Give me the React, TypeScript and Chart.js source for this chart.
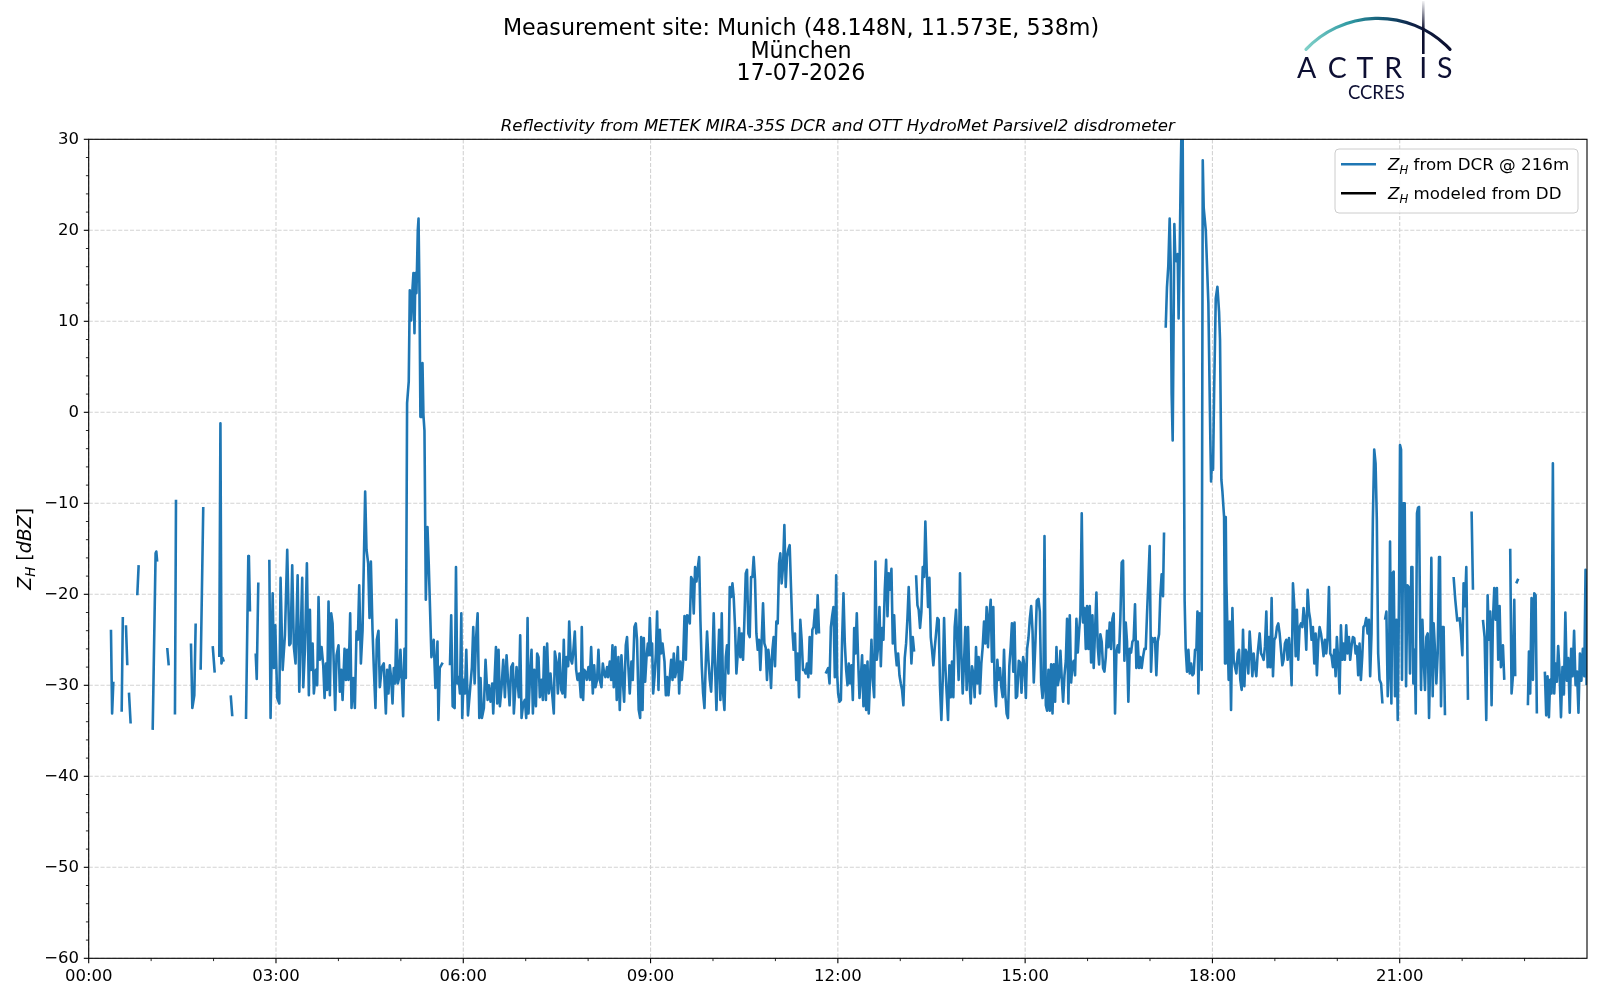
import React, { useEffect, useRef } from 'react';
import { Chart, registerables } from 'chart.js';

Chart.register(...registerables);

// ---- DATA: [minutes since 00:00 UTC, Z_H in dBZ] (null = no data) ----
const dcr0003: [number, number | null][] = [
  [21.4, -23.9], [22.5, -33.1], [23.7, -29.6], [27, null],
  [31.7, -32.9], [32.8, -22.5], [34.3, null],
  [35.8, -23.4], [37.1, -27.8], [37.9, null],
  [38.7, -30.8], [40.3, -34.2], [43, null],
  [46.7, -20.1], [48.0, -16.8], [55, null],
  [61.5, -34.9], [64.3, -15.5], [65.0, -15.3], [65.8, -16.4], [70, null],
  [75.5, -25.9], [76.9, -27.8], [80, null],
  [82.9, -33.2], [83.9, -9.6], [90, null],
  [98.3, -25.4], [99.6, -32.5], [101.5, -31.1], [102.8, -23.2], [105, null],
  [107.6, -28.3], [110.1, -10.4], [115, null],
  [119.2, -25.7], [121.1, -28.6], [123, null],
  [125.5, -26.9], [126.6, -1.2], [127.6, -27.6], [128.8, -27.0], [129.8, -27.4], [133, null],
  [136.5, -31.1], [138.0, -33.4], [145, null],
  [151.2, -33.7], [153.4, -15.8], [154.0, -16.0], [155.0, -21.9], [158, null],
  [160.5, -26.5], [161.5, -29.3], [163.0, -18.7], [168, null],
  [173.6, -16.2], [174.8, -33.6], [176.8, -19.9], [178.0, -28.1], [179.3, -23.4],
];

const dcr0306: [number, number | null][] = [
  [181.2, -31.4], [183.2, -32.0], [184.4, -18.2], [186.4, -28.3], [188.6, -24.5], [190.8, -15.1], [192.8, -25.6],
  [194.0, -25.4], [195.6, -16.8], [197.2, -25.8], [198.8, -27.6], [200.8, -17.9], [202.4, -30.7], [205.2, -18.2],
  [206.2, -30.2], [207.8, -26.1], [209.7, -16.6], [211.6, -31.1], [212.6, -21.7], [213.6, -28.3], [215.2, -25.4],
  [216.4, -30.9], [218.4, -28.3], [219.6, -30.0], [220.9, -20.3], [222.2, -27.2], [223.8, -25.8], [225.4, -27.8],
  [226.7, -31.4], [228.0, -27.6], [229.2, -30.5], [230.5, -20.8], [231.8, -31.1], [233.1, -22.1], [234.4, -23.2],
  [235.6, -28.0], [236.9, -32.7], [238.2, -26.7], [240.1, -25.6], [241.4, -30.7], [242.7, -28.3], [244.0, -31.6],
  [245.9, -26.0], [247.2, -29.4], [248.4, -26.1], [249.7, -29.4], [251.3, -22.1], [252.6, -32.5], [254.2, -29.2],
  [255.8, -32.5], [257.4, -24.1], [258.7, -25.0], [260.0, -19.0], [261.6, -27.6], [263.2, -24.0], [265.7, -8.7],
  [267.0, -15.1], [268.6, -16.6], [269.9, -22.6], [271.2, -16.4], [272.8, -24.0], [274.0, -28.0], [275.6, -32.5],
  [276.9, -25.0], [278.5, -24.0], [279.8, -30.2], [281.7, -28.0], [283.6, -27.6], [285.6, -33.1], [286.8, -28.3],
  [288.1, -30.9], [289.4, -27.8], [290.7, -29.2], [292.0, -32.0], [293.2, -28.1], [294.5, -29.8], [295.8, -22.8],
  [297.1, -29.8], [298.4, -29.1], [299.6, -26.1], [300.9, -29.2], [302.2, -33.4], [303.5, -26.0], [304.8, -29.2],
  [306.0, 1.0], [307.6, 3.4], [308.6, 13.4], [309.9, 10.1], [311.2, 13.6], [312.1, 15.3], [313.1, 8.7],
  [314.0, 15.3], [315.0, 13.1], [316.3, 20.0], [317.0, 21.3], [317.9, 13.1], [318.8, -0.5], [319.8, -0.5],
  [320.8, 5.4], [321.7, -0.3], [322.7, -2.0], [324.0, -20.6], [325.6, -12.6], [326.8, -16.6], [329.4, -26.9],
  [331.6, -25.0], [333.2, -30.3], [335.2, -25.2], [336.1, -33.8], [337.4, -28.1], [340.2, -27.5], [343, null],
  [347.2, -27.8], [348.4, -22.3], [349.8, -32.3], [351.7, -32.5], [353.0, -17.0], [354.2, -29.8], [355.5, -29.1],
  [356.8, -30.9], [358.1, -22.1], [359.0, -33.6],
];

const dcr0609: [number, number | null][] = [
  [360.3, -29.4], [361.6, -30.9], [362.9, -26.1], [364.5, -33.3], [368.3, -28.0], [369.6, -23.6], [370.9, -29.8],
  [372.2, -25.0], [373.8, -22.1], [375.4, -33.6], [376.6, -29.2], [377.9, -33.6], [379.8, -32.5], [381.4, -27.2],
  [383.4, -31.6], [384.6, -30.0], [386.2, -31.8], [387.8, -29.8], [388.8, -33.1], [390.1, -29.4], [391.4, -25.8],
  [392.6, -32.0], [393.9, -26.1], [395.2, -32.3], [396.8, -30.2], [398.4, -27.2], [400.0, -31.3], [401.6, -26.7],
  [403.2, -29.8], [404.5, -32.2], [406.1, -28.0], [407.7, -27.6], [408.6, -33.1], [411.2, -28.0], [413.4, -31.3],
  [414.7, -24.5], [416.0, -33.6], [417.6, -32.0], [419.2, -31.6], [420.5, -33.6], [421.8, -22.6], [422.7, -33.1],
  [424.0, -29.4], [425.6, -26.1], [426.9, -33.1], [428.2, -28.3], [429.8, -32.3], [431.0, -26.5], [432.3, -26.9],
  [433.6, -31.3], [435.2, -29.4], [436.5, -31.6], [437.8, -25.8], [439.4, -31.6], [440.6, -25.4], [442.2, -30.9],
  [443.8, -28.7], [445.4, -30.9], [447.0, -33.1], [448.0, -26.3], [449.6, -27.4], [450.9, -30.9], [452.5, -26.5],
  [454.1, -30.5], [455.4, -30.9], [456.6, -25.0], [457.9, -31.3], [459.2, -26.9], [460.8, -27.9], [461.8, -23.0],
  [463.4, -27.2], [464.6, -27.6], [465.6, -26.5], [467.2, -24.1], [468.5, -28.3], [469.8, -29.4], [471.4, -28.7],
  [473.0, -31.3], [473.9, -23.6], [475.2, -31.6], [476.2, -28.3], [477.4, -28.5], [478.7, -29.4], [480.3, -28.0],
  [481.6, -29.4], [482.9, -25.8], [484.5, -30.9], [485.8, -27.8], [487.0, -30.2], [488.6, -29.4], [489.9, -26.1],
  [491.2, -29.4], [492.8, -30.2], [494.1, -27.6], [495.4, -28.7], [496.6, -29.1], [498.2, -28.0], [499.2, -29.1],
  [500.8, -27.4], [502.1, -29.4], [503.4, -25.6], [504.6, -30.2], [506.2, -25.8], [507.5, -31.6], [509.1, -26.9],
  [510.4, -32.7], [512.0, -26.7], [513.3, -29.4], [514.6, -31.8], [516.2, -25.6], [517.4, -24.7], [518.7, -28.0],
  [520.0, -30.9], [521.6, -27.4], [522.9, -29.4], [524.5, -23.6], [525.8, -23.2], [527.0, -25.0], [528.6, -32.7],
  [530.0, -33.6], [531.0, -24.7], [532.3, -32.7], [533.5, -24.8], [534.8, -29.6], [536.1, -26.9], [537.4, -25.4],
  [538.3, -26.7], [539.3, -22.6],
];

const dcr0912: [number, number | null][] = [
  [540.6, -26.7], [541.5, -25.4], [542.5, -30.9], [543.8, -29.1], [545.1, -26.5], [546.3, -21.9], [547.6, -30.5],
  [548.9, -23.9], [550.2, -26.5], [551.5, -25.4], [553.4, -27.4], [554.7, -31.1], [556.0, -29.1], [557.2, -31.1],
  [558.5, -29.1], [559.8, -27.2], [561.1, -29.4], [562.3, -26.5], [563.6, -29.1], [564.9, -28.3], [566.2, -25.8],
  [567.5, -30.9], [568.7, -27.4], [570.0, -29.4], [571.3, -27.4], [572.6, -22.4], [573.9, -27.2], [575.1, -22.3],
  [576.4, -22.4], [577.7, -23.2], [579.0, -18.1], [580.3, -18.4], [581.5, -22.1], [582.8, -17.0], [584.1, -18.6],
  [585.4, -17.1], [586.7, -15.9], [587.9, -22.8], [589.2, -27.9], [590.5, -30.9], [591.8, -32.5], [593.1, -27.4],
  [594.3, -24.1], [595.6, -27.2], [596.9, -29.4], [598.2, -30.7], [599.5, -27.2], [600.7, -22.1], [602.0, -27.9],
  [603.3, -32.7], [604.6, -27.9], [605.9, -23.9], [607.1, -31.6], [608.4, -22.1], [609.7, -30.9], [611.0, -32.7],
  [612.3, -26.9], [613.5, -25.6], [614.8, -28.7], [616.1, -19.2], [617.4, -20.3], [618.7, -18.8], [619.9, -20.3],
  [621.2, -23.6], [622.5, -28.7], [623.8, -26.5], [625.1, -23.7], [626.3, -26.9], [627.6, -24.3], [628.9, -27.2],
  [630.2, -22.8], [631.5, -17.7], [632.7, -17.3], [634.0, -24.3], [635.3, -24.7], [636.6, -18.1], [637.9, -18.1],
  [639.1, -15.9], [640.4, -18.4], [641.7, -24.3], [643.0, -26.1], [644.3, -25.0], [645.5, -28.3], [646.8, -25.0],
  [648.1, -21.0], [649.4, -25.4], [650.7, -25.9], [651.9, -29.4], [653.2, -26.1], [654.5, -27.4], [655.8, -30.3],
  [657.1, -26.1], [658.3, -24.7], [659.6, -27.9], [660.9, -23.0], [662.2, -23.2], [663.5, -16.6], [664.7, -15.5],
  [666.0, -18.8], [667.3, -17.0], [668.6, -12.4], [669.9, -19.2], [671.1, -15.9], [672.4, -15.1], [673.7, -14.6],
  [675.0, -19.3], [676.3, -23.9], [677.5, -26.1], [678.8, -24.3], [680.1, -29.4], [681.4, -26.5], [682.7, -31.3],
  [683.9, -22.8], [685.2, -25.0], [686.5, -28.3], [687.8, -28.3], [689.1, -28.7], [690.3, -27.6], [691.6, -29.1],
  [692.9, -24.7], [694.2, -28.7], [695.5, -23.9], [696.7, -23.6], [698.0, -21.7], [699.3, -24.3], [700.6, -20.1],
  [701.9, -24.3], [705, null],
  [708.3, -28.7], [710.7, -28.1], [712.0, -29.8], [713.3, -23.6], [714.5, -22.4], [715.8, -21.4], [717.1, -29.1],
  [718.4, -17.9], [719.3, -28.7],
];

const dcr1215: [number, number | null][] = [
  [720.3, -30.9], [721.6, -31.8], [722.9, -31.6], [724.1, -25.0], [725.4, -19.9], [726.7, -25.4], [728.0, -28.3],
  [729.3, -30.0], [730.5, -27.6], [731.8, -29.8], [733.1, -27.8], [734.4, -31.6], [735.7, -23.7], [736.9, -26.5],
  [738.2, -22.1], [739.5, -27.2], [740.8, -31.4], [742.1, -29.1], [743.3, -26.7], [744.6, -32.3], [745.9, -27.8],
  [747.2, -32.7], [748.5, -27.4], [749.7, -33.1], [751.0, -29.1], [752.3, -25.0], [753.6, -29.4], [754.9, -31.3],
  [756.1, -16.4], [757.4, -27.2], [758.7, -25.8], [760.0, -21.4], [761.3, -27.9], [762.5, -23.7], [763.8, -25.0],
  [765.1, -19.5], [766.4, -16.2], [767.7, -22.4], [768.9, -17.7], [770.2, -19.5], [771.5, -17.2], [772.8, -25.4],
  [774.1, -22.3], [775.3, -26.1], [776.6, -27.8], [777.9, -26.5], [779.2, -28.9], [780.5, -29.8], [781.7, -30.5],
  [783.0, -32.2], [784.3, -27.0], [785.6, -25.4], [786.9, -22.6], [788.1, -19.2], [789.4, -23.2], [790.7, -27.6],
  [792.0, -24.7], [793.3, -26.3], [794.2, null],
  [795.2, -17.9], [796.5, -21.2], [797.7, -21.7], [799.0, -23.7], [800.3, -21.9], [801.6, -17.0], [802.9, -18.1],
  [804.1, -12.0], [805.4, -17.3], [806.7, -21.4], [808.0, -18.2], [809.3, -24.7], [810.5, -26.1], [811.8, -27.8],
  [813.1, -25.9], [814.4, -24.3], [815.7, -22.6], [816.9, -22.8], [818.2, -30.2], [819.5, -33.8], [820.8, -29.4],
  [822.1, -22.6], [823.3, -27.9], [824.6, -30.9], [825.9, -33.8], [827.2, -27.8], [828.5, -31.3], [829.7, -27.4],
  [831.0, -31.3], [832.3, -23.6], [833.6, -21.7], [834.9, -25.8], [836.1, -29.4], [837.4, -17.7], [838.7, -26.5],
  [840.0, -30.9], [841.3, -27.4], [842.5, -23.6], [843.8, -30.5], [845.1, -23.6], [846.4, -29.4], [847.7, -32.0],
  [848.9, -27.9], [850.2, -28.7], [851.5, -31.3], [852.8, -25.8], [854.1, -29.8], [855.3, -26.9], [856.6, -30.9],
  [857.9, -27.6], [859.2, -25.8], [860.5, -23.0], [861.7, -25.4], [863.0, -21.4], [864.3, -25.8], [865.6, -22.4],
  [866.9, -20.6], [868.1, -27.4], [869.4, -21.4], [870.7, -30.3], [872.0, -32.3], [873.3, -27.2], [874.5, -29.4],
  [875.8, -28.1], [877.1, -30.2], [878.4, -31.3], [879.7, -26.1], [880.9, -30.9], [882.2, -33.1], [883.5, -33.6],
  [884.8, -27.9], [886.1, -25.8], [887.3, -23.2], [888.6, -28.5], [889.8, -23.1], [891.1, -31.4], [892.3, -31.2],
  [893.9, -27.3], [895.2, -27.5], [896.5, -30.8], [898.1, -26.9], [899.4, -27.9],
];

const dcr1518: [number, number | null][] = [
  [900.7, -31.4], [901.9, -26.0], [903.2, -24.8], [904.5, -22.7], [905.8, -21.3], [907.1, -24.0], [908.3, -29.7],
  [909.9, -25.2], [911.2, -20.7], [912.8, -20.5], [914.1, -21.9], [915.4, -29.7], [916.7, -31.4], [917.6, -30.2],
  [918.6, -13.6], [919.9, -32.2], [921.1, -32.8], [922.4, -28.3], [923.7, -32.8], [925.0, -27.7], [926.3, -33.1],
  [927.5, -27.7], [928.8, -31.8], [930.1, -25.8], [931.4, -30.0], [932.7, -29.1], [933.9, -26.2], [935.2, -29.3],
  [936.5, -31.8], [937.8, -28.9], [939.1, -27.3], [940.3, -22.7], [941.6, -32.0], [942.9, -22.3], [944.2, -29.7],
  [945.5, -27.7], [946.7, -27.3], [948.0, -28.9], [949.3, -22.7], [950.6, -26.4], [951.9, -24.0], [953.1, -22.3],
  [954.4, -11.1], [955.7, -23.1], [957.0, -21.5], [958.3, -26.0], [959.5, -21.3], [960.8, -26.0], [962.1, -21.3],
  [963.4, -27.5], [964.7, -22.3], [965.9, -28.1], [967.2, -24.0], [968.5, -19.8], [969.8, -25.8], [971.1, -27.7],
  [972.3, -24.4], [973.6, -25.2], [974.9, -28.1], [976.2, -28.5], [977.5, -26.9], [978.7, -24.0], [980.0, -25.8],
  [981.3, -23.1], [982.6, -26.0], [983.9, -22.7], [985.1, -22.1], [986.4, -33.1], [987.7, -26.4], [989.0, -25.6],
  [990.3, -26.4], [991.5, -22.7], [992.8, -16.5], [994.1, -16.3], [995.4, -27.3], [996.7, -23.1], [997.9, -25.2],
  [999.2, -31.8], [1000.5, -26.0], [1001.8, -26.4], [1003.1, -25.2], [1004.3, -25.0], [1005.6, -21.1], [1006.9, -28.1],
  [1008.2, -25.2], [1009.5, -28.1], [1010.7, -26.9], [1012.0, -28.1], [1013.3, -26.9], [1014.6, -26.0], [1015.9, -26.0],
  [1017.1, -22.3], [1018.4, -18.6], [1019.7, -14.7], [1021.0, -28.5], [1022.3, -24.8], [1023.5, -25.2], [1024.8, -24.8],
  [1026.1, -28.9], [1027.4, -25.2], [1028.7, -24.4], [1029.9, -20.2], [1031.2, -17.8], [1032.5, -20.2], [1033.5, -13.2],
  [1034.3, null],
  [1035.1, 9.3], [1036.3, 13.7], [1037.6, 16.1], [1038.9, 21.3], [1039.9, 16.1], [1040.8, 2.1], [1041.8, -3.1],
  [1042.7, 9.5], [1043.4, 20.7], [1044.3, 17.0], [1045.3, 16.6], [1046.6, 17.4], [1047.5, 10.3], [1048.5, 17.0],
  [1049.5, 26.0], [1050.4, 32.0], [1051.4, 31.0], [1052.3, 6.2], [1053.3, -20.7], [1054.3, -26.0], [1055.6, -28.5],
  [1056.9, -26.1], [1058.2, -28.7], [1059.5, -27.6], [1060.8, -28.9], [1062.0, -28.7], [1063.3, -26.1], [1064.6, -26.1],
  [1065.6, -21.9], [1066.5, -30.9], [1067.8, -22.1], [1068.8, -22.3], [1069.7, -28.3], [1070.7, 27.7], [1071.6, 22.5],
  [1073.6, 20.0], [1076.1, 12.0], [1078.0, -3.0], [1078.7, -7.6], [1079.6, -5.0],
];

const dcr1821: [number, number | null][] = [
  [1080.6, -6.3], [1081.6, 2.0], [1083.2, 12.5], [1084.8, 13.8], [1086.4, 11.0], [1087.3, 8.0], [1088.6, -7.4],
  [1089.6, -8.7], [1091.2, -11.5], [1092.1, -27.6], [1092.8, -11.5], [1093.4, -18.8], [1095.6, -29.4], [1096.6, -23.0],
  [1097.9, -32.7], [1099.2, -21.5], [1100.4, -27.2], [1101.7, -28.0], [1103.0, -28.7], [1104.3, -26.5], [1105.6, -26.1],
  [1106.8, -29.4], [1108.1, -30.5], [1109.4, -23.9], [1110.7, -30.1], [1112.0, -26.1], [1113.2, -26.5], [1114.5, -28.7],
  [1115.8, -24.1], [1117.1, -26.5], [1118.4, -29.0], [1119.6, -26.5], [1120.9, -28.0], [1122.2, -29.0], [1123.5, -26.5],
  [1125.4, -24.3], [1126.7, -26.5], [1128.0, -26.8], [1129.2, -27.2], [1130.5, -25.7], [1131.8, -21.9], [1133.1, -28.0],
  [1134.4, -24.7], [1135.6, -28.0], [1136.9, -20.4], [1138.2, -29.0], [1139.5, -25.0], [1140.8, -24.7], [1142.0, -23.6],
  [1143.3, -23.2], [1144.6, -24.3], [1145.9, -26.1], [1147.2, -27.8], [1148.4, -27.2], [1149.7, -25.4], [1151.0, -25.0],
  [1152.3, -27.2], [1153.6, -24.8], [1154.8, -26.5], [1156.1, -30.0], [1157.4, -18.8], [1158.7, -21.3], [1160.0, -26.8],
  [1161.2, -21.7], [1162.5, -27.2], [1163.8, -23.6], [1165.1, -23.2], [1166.4, -23.6], [1167.6, -21.5], [1168.9, -22.8],
  [1170.2, -26.1], [1171.5, -19.5], [1172.8, -21.9], [1174.0, -22.8], [1175.3, -25.0], [1176.6, -23.6], [1177.9, -27.6],
  [1179.2, -24.3], [1180.4, -28.9], [1181.7, -25.2], [1183.0, -23.6], [1184.3, -24.3], [1185.6, -25.4], [1186.8, -26.8],
  [1188.1, -25.0], [1189.4, -26.5], [1190.7, -24.7], [1192.0, -19.2], [1193.2, -26.5], [1194.5, -26.8], [1195.8, -28.0],
  [1197.1, -26.1], [1198.4, -29.0], [1199.6, -24.7], [1200.9, -27.2], [1202.2, -30.9], [1203.5, -23.4], [1204.8, -27.2],
  [1206.0, -25.4], [1207.3, -27.2], [1208.6, -23.4], [1209.9, -26.5], [1211.2, -24.7], [1212.4, -27.2], [1213.7, -25.7],
  [1215.0, -24.7], [1216.3, -24.8], [1217.6, -26.5], [1218.8, -25.7], [1220.1, -28.9], [1221.4, -25.4], [1222.7, -29.4],
  [1224.0, -26.8], [1225.2, -23.6], [1226.5, -23.4], [1227.8, -22.6], [1229.1, -24.3], [1230.4, -22.8], [1231.6, -29.0],
  [1232.9, -24.3], [1234.2, -11.8], [1235.5, -4.1], [1236.8, -5.6], [1238.0, -11.8], [1239.3, -26.5], [1240.6, -29.4],
  [1242.1, -29.8], [1243.4, -32.0], [1244.6, null],
  [1245.9, -22.8], [1247.2, -21.9], [1248.5, -31.2], [1249.8, -28.0], [1250.7, -14.2], [1252.0, -32.0], [1253.0, -17.7],
  [1254.2, -17.5], [1255.5, -31.2], [1256.8, -22.8], [1258.1, -33.8], [1259.4, -19.2],
];

const dcr2124: [number, number | null][] = [
  [1260.3, -3.6], [1261.3, -4.1], [1262.2, -29.4], [1263.5, -10.0], [1264.8, -10.0], [1266.1, -30.1], [1267.4, -19.0],
  [1268.6, -19.2], [1269.9, -28.7], [1271.2, -17.0], [1272.2, -17.0], [1273.1, -29.8], [1274.4, -26.1], [1275.4, -33.1],
  [1276.6, -11.1], [1277.6, -10.5], [1278.6, -10.4], [1279.5, -22.1], [1280.5, -30.5], [1281.8, -22.8], [1283.0, -26.8],
  [1284.3, -30.5], [1285.6, -24.7], [1286.9, -24.3], [1288.2, -33.6], [1289.4, -26.5], [1290.4, -16.0], [1291.7, -31.2],
  [1292.6, -23.2], [1293.9, -26.1], [1295.2, -29.8], [1296.5, -26.5], [1297.8, -15.9], [1298.7, -16.0], [1299.7, -32.3],
  [1301.0, -23.6], [1302.2, -23.6], [1303.5, -33.3], [1307, null],
  [1311.8, -18.1], [1313.4, -20.6], [1315.4, -23.0], [1316.5, null],
  [1317.6, -22.5], [1318.9, -24.3], [1320.2, -26.7], [1321.4, -18.8], [1322.7, -21.3], [1324.0, -17.0], [1325.6, -31.6],
  [1327, null],
  [1329.1, -10.9], [1330.4, -19.5], [1335, null],
  [1340.0, -22.8], [1341.6, -24.7], [1343.2, -33.8], [1344.5, -20.1], [1345.8, -25.0], [1347.0, -21.9], [1348.3, -32.2],
  [1349.6, -22.8], [1350.9, -19.3], [1352.2, -22.8], [1353.4, -19.3], [1354.7, -27.2], [1356.0, -21.3], [1357.3, -28.0],
  [1359.2, -25.6], [1360.5, -29.4], [1363, null],
  [1366.2, -15.0], [1367.5, -30.9], [1368.8, -29.0], [1370.1, -20.6], [1371.0, -29.0], [1371.5, null],
  [1372.0, -18.8], [1373.9, -18.3], [1378, null],
  [1383.2, -32.2], [1384.2, -26.3], [1385.4, -30.9], [1386.7, -20.4], [1388.0, -29.4], [1389.3, -19.9], [1390.6, -20.1],
  [1391.8, -33.1], [1395, null],
  [1399.5, -28.5], [1400.8, -33.3], [1402.1, -29.0], [1403.4, -33.5], [1404.6, -29.4], [1405.9, -30.9], [1407.2, -5.6],
  [1408.5, -30.9], [1409.8, -27.6], [1411.0, -29.6], [1412.3, -25.7], [1413.6, -28.5], [1415.0, -33.5], [1416.4, -28.0],
  [1417.8, -31.0], [1419.2, -22.0], [1420.6, -29.5], [1422.0, -27.0], [1423.4, -33.0], [1424.8, -26.0], [1426.2, -29.0],
  [1427.6, -24.0], [1429.0, -30.0], [1430.4, -28.5], [1431.8, -33.0], [1433.2, -26.5], [1434.6, -29.5], [1436.0, -26.0],
  [1437.4, -29.0], [1438.6, -17.3], [1439.6, -30.0],
];

const modeledDD: [number, number | null][] = [];

const xTickMinutes = [0, 180, 360, 540, 720, 900, 1080, 1260];
const xTickLabels = ['00:00', '03:00', '06:00', '09:00', '12:00', '15:00', '18:00', '21:00'];
const xMinorMinutes = [60, 120, 240, 300, 420, 480, 600, 660, 780, 840, 960, 1020, 1140, 1200, 1320, 1380];
const yTickValues = [-60, -50, -40, -30, -20, -10, 0, 10, 20, 30];

const titleLines = ['Measurement site: Munich (48.148N, 11.573E, 538m)', 'München', '17-07-2026'];
const subTitle = 'Reflectivity from METEK MIRA-35S DCR and OTT HydroMet Parsivel2 disdrometer';
const legendTexts = [' from DCR @ 216m', ' modeled from DD'];

const FONT = '"DejaVu Sans"';
const BLUE = '#1f77b4';

type Part = { t: string; it?: boolean; sub?: boolean };

function drawRich(ctx: CanvasRenderingContext2D, parts: Part[], x: number, y: number, size: number, align: 'left' | 'center') {
  const fontFor = (p: Part) => `${p.it ? 'italic ' : ''}${p.sub ? size * 0.7 : size}px ${FONT}`;
  let total = 0;
  const widths = parts.map((p) => {
    ctx.font = fontFor(p);
    const w = ctx.measureText(p.t).width;
    total += w;
    return w;
  });
  let cx = align === 'center' ? x - total / 2 : x;
  ctx.textAlign = 'left';
  ctx.textBaseline = 'alphabetic';
  parts.forEach((p, i) => {
    ctx.font = fontFor(p);
    ctx.fillText(p.t, cx, y + (p.sub ? size * 0.22 : 0));
    cx += widths[i];
  });
}

const decorPlugin = {
  id: 'decor',
  beforeDatasetsDraw(chart: any) {
    const { ctx, chartArea: a, scales } = chart;
    const x = scales.x;
    const y = scales.y;
    ctx.save();
    ctx.strokeStyle = '#d3d3d3';
    ctx.lineWidth = 1.1;
    ctx.setLineDash([4.1, 1.8]);
    for (const v of xTickMinutes) {
      const px = x.getPixelForValue(v);
      ctx.beginPath();
      ctx.moveTo(px, a.top);
      ctx.lineTo(px, a.bottom);
      ctx.stroke();
    }
    for (const v of yTickValues) {
      const py = y.getPixelForValue(v);
      ctx.beginPath();
      ctx.moveTo(a.left, py);
      ctx.lineTo(a.right, py);
      ctx.stroke();
    }
    ctx.restore();
  },
  afterDatasetsDraw(chart: any) {
    const { ctx, chartArea: a, scales } = chart;
    const x = scales.x;
    const y = scales.y;
    ctx.save();
    // frame
    ctx.strokeStyle = '#000';
    ctx.lineWidth = 1.1;
    ctx.strokeRect(a.left, a.top, a.right - a.left, a.bottom - a.top);
    // ticks
    const tick = (x0: number, y0: number, x1: number, y1: number, w: number) => {
      ctx.lineWidth = w;
      ctx.beginPath();
      ctx.moveTo(x0, y0);
      ctx.lineTo(x1, y1);
      ctx.stroke();
    };
    for (const v of xTickMinutes) {
      const px = x.getPixelForValue(v);
      tick(px, a.bottom, px, a.bottom + 4.9, 1.1);
    }
    for (const v of xMinorMinutes) {
      const px = x.getPixelForValue(v);
      tick(px, a.bottom, px, a.bottom + 2.8, 0.85);
    }
    for (let v = -60; v <= 30; v += 2) {
      const py = y.getPixelForValue(v);
      if (v % 10 === 0) tick(a.left, py, a.left - 4.9, py, 1.1);
      else tick(a.left, py, a.left - 2.8, py, 0.85);
    }

    // legend
    const lx = 1335, ly = 149, lw = 243, lh = 64, r = 4;
    ctx.beginPath();
    ctx.moveTo(lx + r, ly);
    ctx.lineTo(lx + lw - r, ly);
    ctx.quadraticCurveTo(lx + lw, ly, lx + lw, ly + r);
    ctx.lineTo(lx + lw, ly + lh - r);
    ctx.quadraticCurveTo(lx + lw, ly + lh, lx + lw - r, ly + lh);
    ctx.lineTo(lx + r, ly + lh);
    ctx.quadraticCurveTo(lx, ly + lh, lx, ly + lh - r);
    ctx.lineTo(lx, ly + r);
    ctx.quadraticCurveTo(lx, ly, lx + r, ly);
    ctx.closePath();
    ctx.fillStyle = 'rgba(255,255,255,0.8)';
    ctx.fill();
    ctx.strokeStyle = '#cccccc';
    ctx.lineWidth = 1;
    ctx.stroke();
    const rows = [
      { c: BLUE, yc: 164.3, t: legendTexts[0] },
      { c: '#000000', yc: 193.3, t: legendTexts[1] },
    ];
    for (const row of rows) {
      ctx.strokeStyle = row.c;
      ctx.lineWidth = 2.6;
      ctx.beginPath();
      ctx.moveTo(1341, row.yc);
      ctx.lineTo(1376, row.yc);
      ctx.stroke();
      ctx.fillStyle = '#000';
      drawRich(ctx, [{ t: 'Z', it: true }, { t: 'H', it: true, sub: true }, { t: row.t }], 1388, row.yc + 6, 16.7, 'left');
    }

    ctx.restore();
  },
  afterDraw(chart: any) {
    const { ctx, chartArea: a } = chart;
    ctx.save();
    ctx.fillStyle = '#000';
    // titles
    ctx.textAlign = 'center';
    ctx.textBaseline = 'middle';
    ctx.font = `22.2px ${FONT}`;
    ctx.fillText(titleLines[0], 801, 29.5);
    ctx.fillText(titleLines[1], 801, 52);
    ctx.fillText(titleLines[2], 801, 74.5);
    ctx.font = `italic 16.6px ${FONT}`;
    ctx.fillText(subTitle, (a.left + a.right) / 2, 126.5);

    // y axis label
    ctx.save();
    ctx.translate(23.5, (a.top + a.bottom) / 2);
    ctx.rotate(-Math.PI / 2);
    drawRich(ctx, [{ t: 'Z', it: true }, { t: 'H', it: true, sub: true }, { t: ' [' }, { t: 'dBZ', it: true }, { t: ']' }], 0, 7, 19, 'center');
    ctx.restore();

    // ACTRIS logo
    const cx = 1378, cy = 117.4, R = 99.1;
    const g = ctx.createLinearGradient(1306, 0, 1450, 0);
    g.addColorStop(0, '#7fd0c8');
    g.addColorStop(0.3, '#2f9aa3');
    g.addColorStop(0.55, '#135472');
    g.addColorStop(0.75, '#0e1f45');
    g.addColorStop(1, '#0c0f2e');
    ctx.strokeStyle = g;
    ctx.lineWidth = 3.2;
    ctx.lineCap = 'round';
    ctx.beginPath();
    ctx.arc(cx, cy, R, (-136.6 * Math.PI) / 180, (-43.4 * Math.PI) / 180, false);
    ctx.stroke();
    const gv = ctx.createLinearGradient(0, 1, 0, 30);
    gv.addColorStop(0, 'rgba(12,15,46,0.05)');
    gv.addColorStop(1, 'rgba(12,15,46,1)');
    ctx.strokeStyle = gv;
    ctx.lineWidth = 2.6;
    ctx.lineCap = 'butt';
    ctx.beginPath();
    ctx.moveTo(1423.3, 1);
    ctx.lineTo(1423.3, 54);
    ctx.stroke();
    ctx.fillStyle = '#0d0f33';
    ctx.textAlign = 'center';
    ctx.textBaseline = 'alphabetic';
    ctx.font = `400 28.5px Lato`;
    const letters = ['A', 'C', 'T', 'R', 'I', 'S'];
    const lxs = [1306.7, 1337.3, 1365, 1393.3, 1423.3, 1444.7];
    letters.forEach((ch, i) => ctx.fillText(ch, lxs[i], 78.3));
    ctx.font = `400 18.5px Lato`;
    ctx.fillText('CCRES', 1376.3, 99.3);
    ctx.restore();
  },
};

export default function App() {
  const canvasRef = useRef<HTMLCanvasElement | null>(null);

  useEffect(() => {
    const canvas = canvasRef.current;
    if (!canvas) return;
    const toPoints = (arr: [number, number | null][]) => arr.map(([t, v]) => ({ x: t, y: v }));
    const dcrAll = [...dcr0003, ...dcr0306, ...dcr0609, ...dcr0912, ...dcr1215, ...dcr1518, ...dcr1821, ...dcr2124];
    const tickFont = { family: 'DejaVu Sans', size: 16.5 };
    const chart = new Chart(canvas, {
      type: 'line',
      data: {
        datasets: [
          {
            label: 'Z_H from DCR @ 216m',
            data: toPoints(dcrAll) as any,
            borderColor: BLUE,
            borderWidth: 2.6,
            pointRadius: 0,
            tension: 0,
            spanGaps: false,
            fill: false,
            borderJoinStyle: 'round',
            borderCapStyle: 'butt',
          },
          {
            label: 'Z_H modeled from DD',
            data: toPoints(modeledDD) as any,
            borderColor: '#000000',
            borderWidth: 2.6,
            pointRadius: 0,
            fill: false,
          },
        ],
      },
      options: {
        animation: false,
        responsive: false,
        devicePixelRatio: 1,
        events: [],
        layout: { padding: { top: 139.3, right: 13, left: 0, bottom: 0 } },
        plugins: {
          legend: { display: false },
          title: { display: false },
          tooltip: { enabled: false },
        },
        scales: {
          x: {
            type: 'linear',
            min: 0,
            max: 1440,
            afterBuildTicks: (s: any) => {
              s.ticks = xTickMinutes.map((v) => ({ value: v }));
            },
            afterFit: (s: any) => {
              s.height = 41.7;
            },
            grid: { display: false, drawTicks: false },
            border: { display: false },
            ticks: {
              autoSkip: false,
              maxRotation: 0,
              minRotation: 0,
              padding: 9,
              color: '#000',
              font: tickFont,
              callback: (v: any) => {
                const i = xTickMinutes.indexOf(Number(v));
                return i >= 0 ? xTickLabels[i] : '';
              },
            },
          },
          y: {
            type: 'linear',
            min: -60,
            max: 30,
            afterBuildTicks: (s: any) => {
              s.ticks = yTickValues.map((v) => ({ value: v }));
            },
            afterFit: (s: any) => {
              s.width = 88.7;
            },
            grid: { display: false, drawTicks: false },
            border: { display: false },
            ticks: {
              padding: 9.7,
              color: '#000',
              font: tickFont,
              callback: (v: any) => {
                const n = Number(v);
                return n < 0 ? '\u2212' + Math.abs(n) : String(n);
              },
            },
          },
        },
      } as any,
      plugins: [decorPlugin],
    });
    return () => chart.destroy();
  }, []);

  return (
    <div style={{ position: 'fixed', left: 0, top: 0, width: 1600, height: 1000, background: '#fff' }}>
      <canvas ref={canvasRef} width={1600} height={1000} style={{ display: 'block', width: 1600, height: 1000 }} />
    </div>
  );
}
